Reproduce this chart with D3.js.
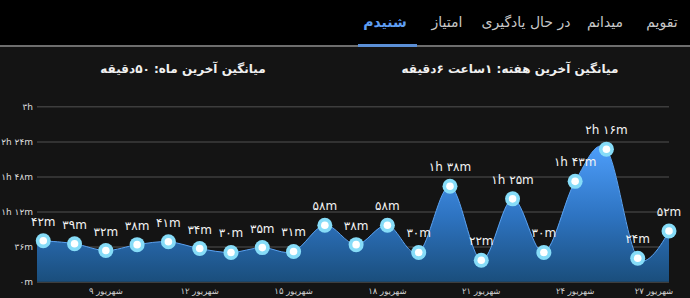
<!DOCTYPE html>
<html>
<head>
<meta charset="utf-8">
<script src="https://cdnjs.cloudflare.com/ajax/libs/d3/7.8.5/d3.min.js"></script>
<style>
body { margin: 0; background: #141414; }
svg { display: block; font-family: "DejaVu Sans", sans-serif; }
</style>
</head>
<body>
<svg id="chart" width="690" height="298"></svg>
<script>
var tabs = ["تقویم", "میدانم", "در حال یادگیری", "امتیاز", "شنیدم"];//header tabs, right to left
var activeTab = "شنیدم";
var summaryWeek = "میانگین آخرین هفته: ۱ساعت  ۶دقیقه";
var summaryMonth = "میانگین آخرین ماه: ۵۰دقیقه";

var days = [7, 8, 9, 10, 11, 12, 13, 14, 15, 16, 17, 18, 19, 20, 21, 22, 23, 24, 25, 26, 27];//day of month
var minutes = [42, 39, 32, 38, 41, 34, 30, 35, 31, 58, 38, 58, 30, 98, 22, 85, 30, 103, 136, 24, 52];//minutes listened
var xTickDays = [9, 12, 15, 18, 21, 24, 27];
var monthName = "شهریور";
var yTicks = [0, 36, 72, 108, 144, 180];
var yTickLabels = ["۰m", "۳۶m", "۱h ۱۲m", "۱h ۴۸m", "۲h ۲۴m", "۳h"];

function fa(s) {//persian digits
	return String(s).replace(/[0-9]/g, function(c) { return "۰۱۲۳۴۵۶۷۸۹"[+c]; });
}
function fmtMin(m) {
	var h = Math.floor(m / 60), r = m % 60;
	return fa(h > 0 ? h + "h " + r + "m" : r + "m");
}

var svg = d3.select("#chart");

//header bar with tabs
svg.append("rect").attr("x", 0).attr("y", 0).attr("width", 690).attr("height", 46).attr("fill", "#000");
svg.append("rect").attr("x", 0).attr("y", 45).attr("width", 690).attr("height", 2).attr("fill", "#6e6e6e");

var tabX = d3.scaleOrdinal().domain(tabs).range([662, 605, 526, 447, 385]);
svg.append("g").selectAll("text")
	.data(tabs)
	.enter().append("text")
	.attr("x", function(d) { return tabX(d); })
	.attr("y", 27)
	.attr("text-anchor", "middle")
	.attr("font-size", 14)
	.attr("font-weight", function(d) { return d == activeTab ? "bold" : "normal"; })
	.attr("fill", function(d) { return d == activeTab ? "#5f9ef2" : "#c8c8c8"; })
	.text(function(d) { return d; });
svg.append("rect")
	.attr("x", tabX(activeTab) - 27).attr("y", 44)
	.attr("width", 59).attr("height", 3)
	.attr("fill", "#5b8fd6");

//summaries
svg.append("text").attr("x", 510).attr("y", 73).attr("text-anchor", "middle")
	.attr("font-size", 12).attr("font-weight", "bold").attr("fill", "#f0f0f0")
	.text(summaryWeek);
svg.append("text").attr("x", 183).attr("y", 73).attr("text-anchor", "middle")
	.attr("font-size", 12).attr("font-weight", "bold").attr("fill", "#f0f0f0")
	.text(summaryMonth);

//scales
var plotLeft = 37, plotRight = 669, plotTop = 106.3, plotBottom = 281.7;
var x = d3.scaleLinear().domain([-0.2, days.length - 1]).range([plotLeft, plotRight]);
var y = d3.scaleLinear().domain([0, 180]).range([plotBottom, plotTop]);

//grid
svg.append("g")
	.attr("transform", "translate(" + plotLeft + ",0)")
	.call(d3.axisLeft(y).tickValues(yTicks).tickSize(-(plotRight - plotLeft)).tickFormat(function(d, i) { return yTickLabels[i]; }))
	.call(function(g) {
		g.select(".domain").remove();
		g.selectAll(".tick line").attr("stroke", "#3d3d3d").attr("stroke-width", 1.5);
		g.selectAll(".tick text").attr("x", -4).attr("fill", "#dcdcdc").attr("font-size", 9)
			.attr("font-family", "DejaVu Sans");
	});

var defs = svg.append("defs");
var grad = defs.append("linearGradient")
	.attr("id", "areaGrad")
	.attr("gradientUnits", "userSpaceOnUse")
	.attr("x1", 0).attr("x2", 0)
	.attr("y1", y(d3.max(minutes))).attr("y2", y(0));
grad.append("stop").attr("offset", "0%").attr("stop-color", "#4c9cf8");
grad.append("stop").attr("offset", "50%").attr("stop-color", "#2e74c2");
grad.append("stop").attr("offset", "100%").attr("stop-color", "#1a4e7c");

var pts = minutes.map(function(m, i) { return {i: i, v: m}; });
var areaPts = [{i: x.domain()[0], v: minutes[0]}].concat(pts);//fill reaches left edge of plot

var curve = d3.curveCardinal.tension(0);
var area = d3.area()
	.x(function(d) { return x(d.i); })
	.y0(y(0))
	.y1(function(d) { return y(d.v); })
	.curve(curve);
var line = d3.line()
	.x(function(d) { return x(d.i); })
	.y(function(d) { return y(d.v); })
	.curve(curve);

svg.append("path").datum(areaPts).attr("d", area).attr("fill", "url(#areaGrad)");
svg.append("path").datum(areaPts).attr("d", line)
	.attr("fill", "none").attr("stroke", "#5aa2f2").attr("stroke-width", 1);

//x labels
svg.append("g").selectAll("text")
	.data(xTickDays)
	.enter().append("text")
	.attr("x", function(d) { return Math.min(x(days.indexOf(d)), plotRight - 15); })
	.attr("y", 294)
	.attr("text-anchor", "middle")
	.attr("font-size", 8.5)
	.attr("fill", "#d0d0d0")
	.text(function(d) { return fa(d) + " " + monthName; });

//points
var pg = svg.append("g").selectAll("g")
	.data(pts)
	.enter().append("g")
	.attr("transform", function(d) { return "translate(" + x(d.i) + "," + y(d.v) + ")"; });
pg.append("circle").attr("r", 7.5).attr("fill", "#86dcf8");
pg.append("circle").attr("r", 3.8).attr("fill", "#ffffff");
pg.append("text")
	.attr("y", -15)
	.attr("text-anchor", "middle")
	.attr("font-size", 12)
	.attr("fill", "#f4f4f4")
	.text(function(d) { return fmtMin(d.v); });
</script>
</body>
</html>
